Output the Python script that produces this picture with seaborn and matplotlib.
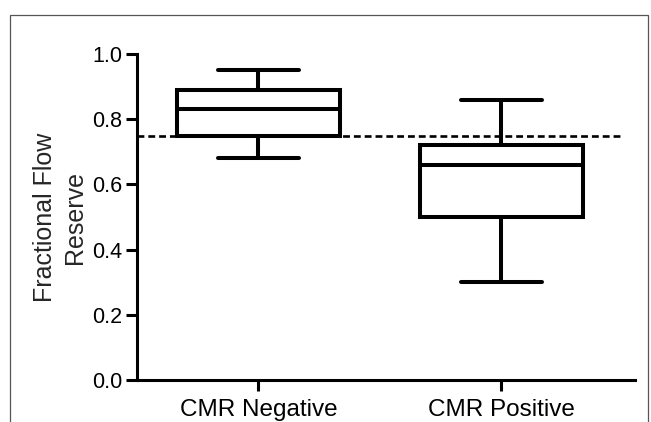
import numpy as np
import pandas as pd
import seaborn as sns
import matplotlib
matplotlib.use("Agg")
import matplotlib.pyplot as plt
from matplotlib.patches import Rectangle

# Five-number summaries (min-to-max whiskers)
groups = ["CMR Negative", "CMR Positive"]
ffr_min = [0.68, 0.30]
ffr_q1 = [0.75, 0.50]
ffr_median = [0.83, 0.66]
ffr_q3 = [0.89, 0.72]
ffr_max = [0.95, 0.86]
ffr_cutoff = 0.75
y_ticks = [0.0, 0.2, 0.4, 0.6, 0.8, 1.0]

# Long table: with five values per group the quartiles come out exactly
rows = []
for i, g in enumerate(groups):
    for v in (ffr_min[i], ffr_q1[i], ffr_median[i], ffr_q3[i], ffr_max[i]):
        rows.append({"group": g, "ffr": v})
df = pd.DataFrame(rows)

sns.set_style("ticks")
plt.rcParams["font.family"] = ["Liberation Sans", "DejaVu Sans"]

fig, ax = plt.subplots(figsize=(6.51, 4.22), dpi=100)
fig.subplots_adjust(left=0.2104, right=0.9754, top=0.872, bottom=0.0995)

# Reference line behind the boxes
ax.hlines(ffr_cutoff, -0.5, len(groups) - 0.5, colors="black",
          linestyles=(0, (2.6, 1.5)), linewidth=1.9, zorder=1)

sns.boxplot(data=df, x="group", y="ffr", order=groups, whis=(0, 100),
            width=0.67, color="white", linecolor="black", linewidth=2.9,
            saturation=1, showfliers=False, ax=ax, zorder=2)

ax.set_xlim(-0.5, 1.55)
ax.set_ylim(0, 1.0)
ax.set_yticks(y_ticks)
ax.set_yticklabels([f"{t:.1f}" for t in y_ticks])
ax.set_xlabel("")
ax.set_ylabel("Fractional Flow\nReserve", fontsize=18, labelpad=4,
              linespacing=1.3)

sns.despine(ax=ax)
for side in ("left", "bottom"):
    ax.spines[side].set_linewidth(2.2)
    ax.spines[side].set_color("black")
ax.tick_params(axis="y", labelsize=15.5, length=8, width=2.2, pad=2.5,
               colors="black")
ax.tick_params(axis="x", labelsize=17.5, length=8, width=2.2, pad=6,
               colors="black")

# thin frame around the picture
fig.patches.append(Rectangle((10 / 651, -0.05), (648 - 10) / 651,
                             (422 - 15) / 422 + 0.05,
                             transform=fig.transFigure, fill=False,
                             edgecolor="#555555", linewidth=0.9,
                             clip_on=False))

fig.savefig("out.png", dpi=100)
